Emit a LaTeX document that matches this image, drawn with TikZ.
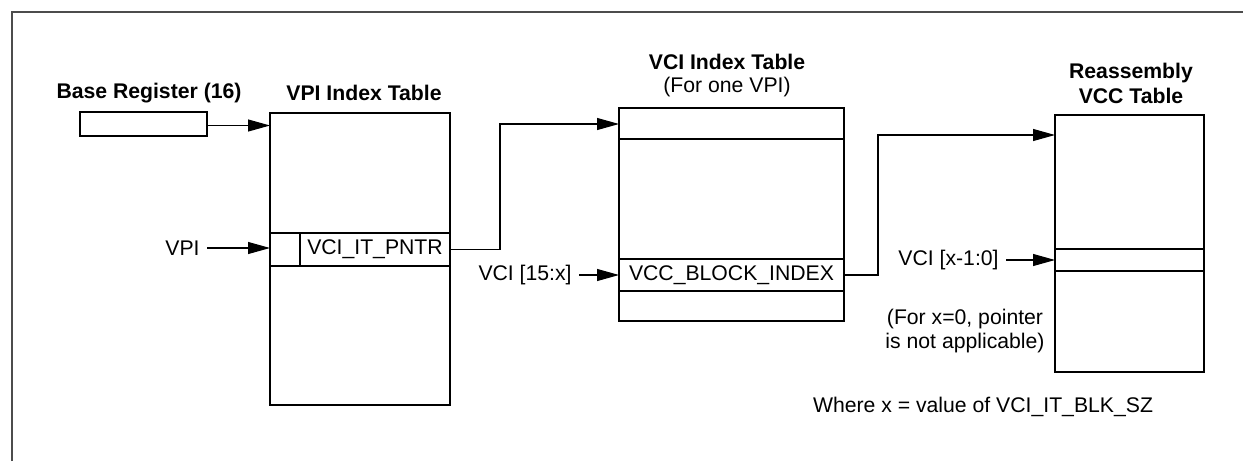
\documentclass[tikz,border=0pt]{standalone}
\usepackage{fontspec}
\setmainfont{Liberation Sans}
\usetikzlibrary{arrows.meta}
\begin{document}
\begin{tikzpicture}[x=0.5pt,y=-0.5pt,
  every node/.style={font=\fontsize{10.6pt}{12.5pt}\selectfont},
  tbl/.style={draw,line width=1.15pt,inner sep=0pt,outer sep=0pt,anchor=north west},
  rowbox/.style={draw,line width=0.9pt,inner sep=0pt,outer sep=0pt,anchor=north west},
  ttl/.style={font=\fontsize{10.6pt}{12.5pt}\selectfont\bfseries,align=center,inner sep=0pt},
  lbl/.style={anchor=east,inner ysep=0pt,inner xsep=3.5pt},
  conn/.style={line width=0.5pt},
  arr/.style={line width=0.55pt,-{Triangle[length=11pt,width=6pt]}}]
\useasboundingbox (0,0) rectangle (1243,461);
% frame
\draw[black!70,line width=1pt] (11.5,461) -- (11.5,12) -- (1243,12);
% base register
\node[tbl,line width=1.2pt,minimum width=63.5pt,minimum height=12pt] (reg) at (80,112) {};
\node[ttl] (regt) at (149,93) {Base Register (16)};
% VPI index table
\node[rowbox,minimum width=90pt,minimum height=16.5pt] (vpirow) at (270,233) {};
\draw[line width=0.9pt] ([xshift=15pt]vpirow.north west) -- ([xshift=15pt]vpirow.south west);
\node[inner sep=0pt] (ptr) at ([xshift=7.5pt]vpirow.center) {VCI\_IT\_PNTR};
\node[tbl,minimum width=90pt,minimum height=146pt] (vpi) at (270,113) {};
\node[ttl] (vpit) at (364,93) {VPI Index Table};
% VCI index table
\node[rowbox,minimum width=112.5pt,minimum height=15.5pt] (vcitop) at (619,108) {};
\node[rowbox,minimum width=112.5pt,minimum height=16pt] (vccrow) at (619,259) {};
\node[inner sep=0pt] (vccb) at (vccrow.center) {VCC\_BLOCK\_INDEX};
\node[tbl,minimum width=112.5pt,minimum height=106.5pt] (vci) at (619,108) {};
\node[ttl] (vcit) at (727,62) {VCI Index Table};
\node[inner sep=0pt] (vcis) at (727,87) {(For one VPI)};
% Reassembly VCC table
\node[rowbox,minimum width=74.5pt,minimum height=11pt] (rrow) at (1055,249) {};
\node[tbl,minimum width=74.5pt,minimum height=128.5pt] (ras) at (1055,115) {};
\node[ttl] (rast) at (1131,83.5) {Reassembly\\VCC Table};
% labels
\node[lbl] (vpil) at (207,248) {VPI};
\node[lbl] (vci15) at (579,275) {VCI [15:x]};
\node[lbl] (vcix) at (1006,260) {VCI [x-1:0]};
\node[align=center,inner sep=0pt,font=\fontsize{10.6pt}{12pt}\selectfont] (note) at (965,331) {(For x=0, pointer\\is not applicable)};
\node[inner sep=0pt] (where) at (983,407) {Where x = value of VCI\_IT\_BLK\_SZ};
% connectors
\coordinate (vpiin) at (270,125.5);
\coordinate (vciin) at (619,124);
\coordinate (rasin) at (1055,135);
\draw[arr] (reg.east |- vpiin) -- (vpiin);
\draw[arr] (vpil.east) -- (vpil.east -| vpirow.west);
\draw[arr] (vpirow.east) -| (500,124) -- (vciin);
\draw[arr] (vci15.east) -- (vci15.east -| vccrow.west);
\draw[arr] (vccrow.east) -| (878,135) -- (rasin);
\draw[arr] (vcix.east) -- (vcix.east -| rrow.west);
\end{tikzpicture}
\end{document}
